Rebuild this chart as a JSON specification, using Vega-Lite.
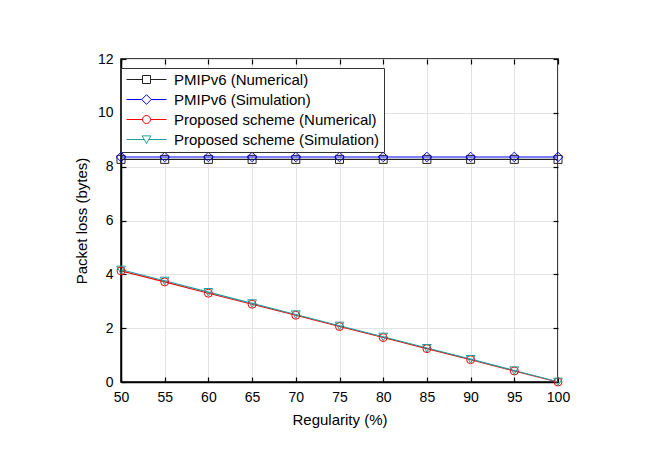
{
  "$schema": "https://vega.github.io/schema/vega-lite/v6.json",
  "width": 437,
  "height": 323,
  "autosize": {"type": "none"},
  "padding": {"left": 121, "top": 59, "right": 88, "bottom": 75},
  "background": "white",
  "config": {
    "view": {"stroke": "#000000", "strokeWidth": 1.5},
    "font": "Liberation Sans",
    "axis": {
      "labelFont": "Liberation Sans",
      "titleFont": "Liberation Sans",
      "labelFontSize": 14,
      "titleFontSize": 15,
      "labelColor": "#000000",
      "titleColor": "#000000",
      "titleFontWeight": "normal",
      "domainColor": "#000000",
      "domainWidth": 1.5,
      "tickColor": "#000000",
      "tickWidth": 1.2,
      "gridColor": "#e3e3e3",
      "gridWidth": 1,
      "labelFlush": false
    },
    "legend": {
      "title": null,
      "orient": "none",
      "legendX": 0,
      "legendY": 9,
      "fillColor": "white",
      "strokeColor": "#333333",
      "padding": 4,
      "rowPadding": 4,
      "symbolSize": 64,
      "symbolStrokeWidth": 1,
      "symbolFillColor": "transparent",
      "labelFont": "Liberation Sans",
      "labelFontSize": 15,
      "labelColor": "#000000",
      "labelOffset": 34,
      "labelLimit": 400
    }
  },
  "data": {
    "values": [
      {"x": 50, "y": 8.27, "s": "PMIPv6 (Numerical)"},
      {"x": 55, "y": 8.27, "s": "PMIPv6 (Numerical)"},
      {"x": 60, "y": 8.27, "s": "PMIPv6 (Numerical)"},
      {"x": 65, "y": 8.27, "s": "PMIPv6 (Numerical)"},
      {"x": 70, "y": 8.27, "s": "PMIPv6 (Numerical)"},
      {"x": 75, "y": 8.27, "s": "PMIPv6 (Numerical)"},
      {"x": 80, "y": 8.27, "s": "PMIPv6 (Numerical)"},
      {"x": 85, "y": 8.27, "s": "PMIPv6 (Numerical)"},
      {"x": 90, "y": 8.27, "s": "PMIPv6 (Numerical)"},
      {"x": 95, "y": 8.27, "s": "PMIPv6 (Numerical)"},
      {"x": 100, "y": 8.27, "s": "PMIPv6 (Numerical)"},
      {"x": 50, "y": 8.36, "s": "PMIPv6 (Simulation)"},
      {"x": 55, "y": 8.36, "s": "PMIPv6 (Simulation)"},
      {"x": 60, "y": 8.36, "s": "PMIPv6 (Simulation)"},
      {"x": 65, "y": 8.36, "s": "PMIPv6 (Simulation)"},
      {"x": 70, "y": 8.36, "s": "PMIPv6 (Simulation)"},
      {"x": 75, "y": 8.36, "s": "PMIPv6 (Simulation)"},
      {"x": 80, "y": 8.36, "s": "PMIPv6 (Simulation)"},
      {"x": 85, "y": 8.36, "s": "PMIPv6 (Simulation)"},
      {"x": 90, "y": 8.36, "s": "PMIPv6 (Simulation)"},
      {"x": 95, "y": 8.36, "s": "PMIPv6 (Simulation)"},
      {"x": 100, "y": 8.36, "s": "PMIPv6 (Simulation)"},
      {"x": 50, "y": 4.13, "s": "Proposed scheme (Numerical)"},
      {"x": 55, "y": 3.72, "s": "Proposed scheme (Numerical)"},
      {"x": 60, "y": 3.3, "s": "Proposed scheme (Numerical)"},
      {"x": 65, "y": 2.89, "s": "Proposed scheme (Numerical)"},
      {"x": 70, "y": 2.48, "s": "Proposed scheme (Numerical)"},
      {"x": 75, "y": 2.06, "s": "Proposed scheme (Numerical)"},
      {"x": 80, "y": 1.65, "s": "Proposed scheme (Numerical)"},
      {"x": 85, "y": 1.24, "s": "Proposed scheme (Numerical)"},
      {"x": 90, "y": 0.83, "s": "Proposed scheme (Numerical)"},
      {"x": 95, "y": 0.41, "s": "Proposed scheme (Numerical)"},
      {"x": 100, "y": 0, "s": "Proposed scheme (Numerical)"},
      {"x": 50, "y": 4.17, "s": "Proposed scheme (Simulation)"},
      {"x": 55, "y": 3.76, "s": "Proposed scheme (Simulation)"},
      {"x": 60, "y": 3.34, "s": "Proposed scheme (Simulation)"},
      {"x": 65, "y": 2.92, "s": "Proposed scheme (Simulation)"},
      {"x": 70, "y": 2.51, "s": "Proposed scheme (Simulation)"},
      {"x": 75, "y": 2.09, "s": "Proposed scheme (Simulation)"},
      {"x": 80, "y": 1.68, "s": "Proposed scheme (Simulation)"},
      {"x": 85, "y": 1.26, "s": "Proposed scheme (Simulation)"},
      {"x": 90, "y": 0.85, "s": "Proposed scheme (Simulation)"},
      {"x": 95, "y": 0.43, "s": "Proposed scheme (Simulation)"},
      {"x": 100, "y": 0.01, "s": "Proposed scheme (Simulation)"}
    ]
  },
  "layer": [
    {
      "mark": {"type": "line", "strokeWidth": 1.1, "clip": true},
      "encoding": {
        "x": {
          "field": "x", "type": "quantitative",
          "scale": {"domain": [50, 100], "nice": false, "zero": false},
          "axis": {"orient": "bottom", "values": [50, 55, 60, 65, 70, 75, 80, 85, 90, 95, 100], "title": "Regularity (%)", "tickSize": -5, "labelPadding": 13, "titlePadding": 8, "grid": true}
        },
        "y": {
          "field": "y", "type": "quantitative",
          "scale": {"domain": [0, 12], "nice": false},
          "axis": {"orient": "left", "values": [0, 2, 4, 6, 8, 10, 12], "title": "Packet loss (bytes)", "tickSize": -5, "labelPadding": 13, "titlePadding": 8, "grid": true}
        },
        "color": {
          "field": "s", "type": "nominal",
          "scale": {
            "domain": ["PMIPv6 (Numerical)", "PMIPv6 (Simulation)", "Proposed scheme (Numerical)", "Proposed scheme (Simulation)"],
            "range": ["#222222", "#0000ff", "#ff0000", "#1f9e9e"]
          },
          "legend": {
            "symbolType": {"expr": "datum.value == 'PMIPv6 (Numerical)' ? 'M-1.5,0H2.5M4.5,0H8.5M2.5,-1H4.5V1H2.5Z' : datum.value == 'PMIPv6 (Simulation)' ? 'M-1.5,0H2.3M4.7,0H8.5M2.3,0L3.5,-1.2L4.7,0L3.5,1.2Z' : datum.value == 'Proposed scheme (Numerical)' ? 'M-1.5,0H2.5M4.5,0H8.5M4.5,0A1,1 0 1,1 2.5,0A1,1 0 1,1 4.5,0Z' : 'M-1.5,0H2.95M4.05,0H8.5M2.4,-0.9L4.6,-0.9L3.5,1Z'"}
          }
        }
      }
    },
    {
      "mark": {
        "type": "point", "filled": false, "size": 64, "strokeWidth": 1, "opacity": 1, "clip": false,
        "shape": {"expr": "datum.s == 'PMIPv6 (Numerical)' ? 'square' : datum.s == 'PMIPv6 (Simulation)' ? 'M-1.2,0L0,-1.2L1.2,0L0,1.2Z' : datum.s == 'Proposed scheme (Numerical)' ? 'circle' : datum.s == 'Proposed scheme (Simulation)' ? 'M-1.1,-0.9L1.1,-0.9L0,1Z' : datum.value == 'PMIPv6 (Numerical)' ? 'M-1.5,0H2.5M4.5,0H8.5M2.5,-1H4.5V1H2.5Z' : datum.value == 'PMIPv6 (Simulation)' ? 'M-1.5,0H2.3M4.7,0H8.5M2.3,0L3.5,-1.2L4.7,0L3.5,1.2Z' : datum.value == 'Proposed scheme (Numerical)' ? 'M-1.5,0H2.5M4.5,0H8.5M4.5,0A1,1 0 1,1 2.5,0A1,1 0 1,1 4.5,0Z' : 'M-1.5,0H2.95M4.05,0H8.5M2.4,-0.9L4.6,-0.9L3.5,1Z'"}
      },
      "encoding": {
        "x": {
          "field": "x", "type": "quantitative",
          "axis": {"orient": "top", "values": [50, 55, 60, 65, 70, 75, 80, 85, 90, 95, 100], "labels": false, "title": null, "tickSize": -5, "grid": false, "domain": false}
        },
        "y": {
          "field": "y", "type": "quantitative",
          "axis": {"orient": "right", "values": [0, 2, 4, 6, 8, 10, 12], "labels": false, "title": null, "tickSize": -5, "grid": false, "domain": false}
        },
        "color": {
          "field": "s", "type": "nominal",
          "legend": {
            "symbolType": {"expr": "datum.value == 'PMIPv6 (Numerical)' ? 'M-1.5,0H2.5M4.5,0H8.5M2.5,-1H4.5V1H2.5Z' : datum.value == 'PMIPv6 (Simulation)' ? 'M-1.5,0H2.3M4.7,0H8.5M2.3,0L3.5,-1.2L4.7,0L3.5,1.2Z' : datum.value == 'Proposed scheme (Numerical)' ? 'M-1.5,0H2.5M4.5,0H8.5M4.5,0A1,1 0 1,1 2.5,0A1,1 0 1,1 4.5,0Z' : 'M-1.5,0H2.95M4.05,0H8.5M2.4,-0.9L4.6,-0.9L3.5,1Z'"}
          }
        }
      }
    }
  ]
}
